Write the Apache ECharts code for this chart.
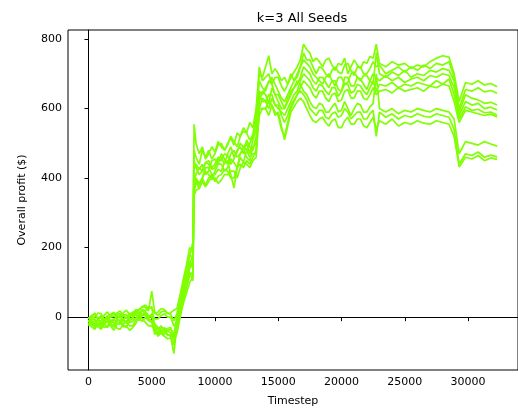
<!DOCTYPE html>
<html>
<head>
<meta charset="utf-8">
<script src="https://cdn.jsdelivr.net/npm/echarts@6/dist/echarts.min.js"></script>
<style>
  html, body { margin: 0; padding: 0; background: #fff; }
  #chart { width: 518px; height: 412px; }
</style>
</head>
<body>
<div id="chart"></div>
<script>
// Timesteps shared by every seed run
const timesteps = [
  0,250,500,750,1000,1250,1500,1750,2000,2250,
  2500,2750,3000,3250,3500,3750,4000,4250,4500,4750,
  5000,5250,5500,5750,6000,6250,6500,6750,7000,7250,
  7500,7750,8000,8250,
  8350,
  8500,8750,9000,9250,9500,9750,10000,10250,10500,10750,
  11000,11250,11500,11750,12000,12250,12500,12750,13000,13250,
  13500,13750,14000,14250,14500,14750,15000,15250,15500,15750,
  16000,16250,16500,16750,17000,17250,17500,17750,18000,18250,
  18500,18750,19000,19250,19500,19750,20000,20250,20500,20750,
  21000,21250,21500,21750,22000,22250,22500,22750,
  23000,23500,24000,24500,25000,25500,26000,26500,27000,27500,28000,28500,
  28900,29300,29800,30300,30800,31300,31800,32300];

// Overall profit ($) per seed
const seed0 = [
  -5,5,8,-8,-12,6,15,0,2,12, 18,5,-4,10,12,22,20,30,28,18, 75,10,15,25,22,12,8,-10,10,50, 95,140,175,215,
  555,
  500,470,490,455,470,490,475,505,490,480, 500,515,495,530,520,545,530,560,545,600,
  700,690,720,752,700,715,700,680,690,670, 690,705,720,740,785,770,760,735,745,735,
  720,740,745,725,710,730,725,745,700,720, 740,725,715,735,730,750,745,785,
  730,720,735,725,730,715,725,720,735,745,752,748,
  700,620,675,670,680,668,672,663];
const seed1 = [
  -12,-2,0,12,10,-5,-8,8,14,4, -2,12,20,8,5,15,10,22,18,30, 25,12,5,15,18,10,12,20,25,65, 110,150,200,190,
  480,
  460,440,480,460,480,455,470,495,500,480, 495,520,505,490,520,535,530,510,525,580,
  720,680,690,700,670,690,690,665,650,670, 700,680,690,720,760,740,740,720,700,720,
  715,700,690,710,720,705,700,725,730,710, 695,720,720,700,700,715,735,720,
  725,700,710,720,705,720,710,725,715,730,725,735,
  690,600,655,650,660,648,652,644];
const seed2 = [
  -15,0,12,-5,-20,-8,5,-12,-10,8, 10,-5,-18,0,8,18,15,5,5,-5, 10,-5,-5,5,10,0,0,-25,-15,25, 70,110,150,180,
  430,
  440,425,440,410,420,450,455,440,470,455, 440,470,480,460,470,490,500,470,510,540,
  650,640,660,675,690,670,650,630,620,640, 660,680,700,720,740,730,720,700,690,680,
  670,690,700,680,665,690,690,670,675,700, 705,690,680,695,695,680,670,760,
  700,690,705,695,710,690,700,695,710,705,715,710,
  680,590,640,630,625,615,618,610];
const seed3 = [
  0,-12,-20,-5,5,-10,-15,2,10,-5, -12,5,8,-8,-5,10,22,30,35,25, 30,-30,-35,-25,-40,-32,-30,-60,-35,10, 60,100,140,160,
  400,
  410,430,420,445,440,425,430,455,450,470, 465,440,455,480,490,470,510,490,480,520,
  620,650,640,615,660,640,620,600,600,620, 640,660,670,690,720,710,700,680,670,690,
  690,675,660,680,680,655,650,690,690,665, 665,690,685,670,655,680,700,690,
  680,695,680,690,675,685,690,680,695,690,700,695,
  660,580,620,610,615,600,604,596];
const seed4 = [
  -20,-8,-5,-22,-30,-12,0,-18,-25,-5, 5,-10,-15,0,15,5,5,18,12,0, 5,-40,-45,-30,-35,-50,-55,-105,-20,30, 80,120,160,140,
  380,
  400,385,400,420,410,395,420,440,440,420, 430,455,445,430,470,480,460,450,490,500,
  600,630,620,640,640,610,600,590,580,600, 620,640,650,680,700,690,680,660,650,670,
  665,650,640,660,660,635,650,670,670,645, 650,670,665,650,640,660,680,650,
  670,665,675,660,670,665,675,670,665,680,670,685,
  640,570,605,595,598,588,590,581];
const seed5 = [
  -8,-20,-30,-18,-15,-30,-25,-10,-5,-18, -20,-5,0,-15,-12,-2,0,8,8,-5, -10,-25,-50,-40,-30,-40,-45,-70,-45,0, 50,85,120,130,
  360,
  390,370,400,380,400,410,390,405,410,425, 420,400,400,430,440,430,450,440,460,480,
  580,600,600,580,610,590,580,540,520,560, 600,620,640,660,680,670,660,640,630,650,
  650,630,620,640,645,620,625,650,655,630, 630,650,650,630,625,640,660,640,
  650,655,645,660,650,655,660,650,665,660,670,665,
  620,560,595,590,585,580,584,576];
const seed6 = [
  -25,-15,-10,-28,-35,-20,-12,-25,-28,-12, -8,-22,-30,-10,0,10,-10,5,15,5, 0,-20,-30,-42,-50,-38,-35,-50,5,55, 100,140,180,170,
  450,
  430,410,420,445,450,430,440,460,460,440, 470,490,460,475,500,490,480,500,520,560,
  680,660,650,680,670,640,640,620,600,630, 650,660,680,670,650,640,620,605,600,615,
  610,590,590,605,615,590,595,620,600,580, 600,615,610,590,590,605,615,700,
  600,590,600,585,595,590,600,595,590,600,595,590,
  570,470,505,500,495,505,498,492];
const seed7 = [
  -10,-18,-25,-8,0,-20,-30,-15,-15,-32, -35,-20,-10,-25,-25,-8,-5,-12,0,-10, -15,-50,-40,-48,-55,-62,-60,-80,-30,5, 40,70,100,115,
  420,
  395,380,400,430,430,410,410,425,420,445, 450,410,371,430,460,445,480,460,470,470,
  640,620,620,600,630,610,610,580,560,580, 610,625,640,650,640,625,600,590,580,595,
  595,575,570,585,590,575,580,600,590,570, 580,590,590,570,570,585,595,520,
  590,575,585,570,580,575,585,578,575,585,580,575,
  540,440,470,465,475,460,466,461];
const seed8 = [
  -18,-28,-35,-20,-22,-8,-5,-25,-38,-20, -15,-28,-25,-38,-30,-18,8,-5,-15,-25, -25,-35,-55,-45,-40,-52,-50,-60,-10,30, 65,100,130,105,
  350,
  365,370,390,375,390,405,400,385,395,410, 410,420,420,400,430,445,440,430,450,460,
  600,600,600,620,610,580,590,550,510,550, 590,605,620,630,620,600,580,565,560,570,
  575,560,550,565,570,545,545,565,575,555, 555,570,570,550,545,560,575,540,
  565,555,570,550,560,555,565,558,555,565,560,555,
  520,432,460,455,465,450,458,454];

const seeds = [seed0, seed1, seed2, seed3, seed4, seed5, seed6, seed7, seed8];

// Tick positions shown on each axis
const xTicks = [0, 5000, 10000, 15000, 20000, 25000, 30000];
const yTicks = [0, 200, 400, 600, 800];

const FONT = '"DejaVu Sans", sans-serif';
const LINE_COLOR = '#7fff00';

const chart = echarts.init(document.getElementById('chart'), null, { renderer: 'canvas' });

const series = seeds.map((vals, k) => ({
  name: 'seed ' + k,
  type: 'line',
  data: timesteps.map((t, i) => [t, vals[i]]),
  showSymbol: false,
  symbol: 'none',
  lineStyle: { color: LINE_COLOR, width: 1.7 },
  itemStyle: { color: LINE_COLOR },
  animation: false,
  z: 2
}));

const plainNumber = v => String(v);

const axisCommon = {
  axisLine: { show: true, lineStyle: { color: '#000', width: 1 } },
  axisTick: { show: true, inside: false, length: 4, lineStyle: { color: '#000', width: 1 } },
  splitLine: { show: false },
  nameTextStyle: { fontFamily: FONT, fontSize: 11, color: '#000' }
};

chart.setOption({
  animation: false,
  backgroundColor: '#fff',
  title: {
    text: 'k=3 All Seeds',
    left: 297,
    top: 7,
    textAlign: 'center',
    textStyle: { fontFamily: FONT, fontSize: 13, fontWeight: 'normal', color: '#000' }
  },
  grid: {
    left: 68, top: 30, right: -9, bottom: 42,
    show: true, borderColor: '#000', borderWidth: 1, backgroundColor: 'transparent'
  },
  xAxis: Object.assign({}, axisCommon, {
    type: 'value',
    min: -1617,
    max: 33950,
    name: 'Timestep',
    nameLocation: 'middle',
    nameGap: 26,
    axisTick: Object.assign({}, axisCommon.axisTick, { customValues: xTicks }),
    axisLabel: { customValues: xTicks, formatter: plainNumber, fontFamily: FONT, fontSize: 11, color: '#000', margin: 7 }
  }),
  yAxis: Object.assign({}, axisCommon, {
    type: 'value',
    min: -152,
    max: 826,
    name: 'Overall profit ($)',
    nameLocation: 'middle',
    nameRotate: 90,
    nameGap: 40,
    axisTick: Object.assign({}, axisCommon.axisTick, { customValues: yTicks }),
    axisLabel: { customValues: yTicks, formatter: plainNumber, fontFamily: FONT, fontSize: 11, color: '#000', margin: 6 }
  }),
  series: series
});
</script>
</body>
</html>
